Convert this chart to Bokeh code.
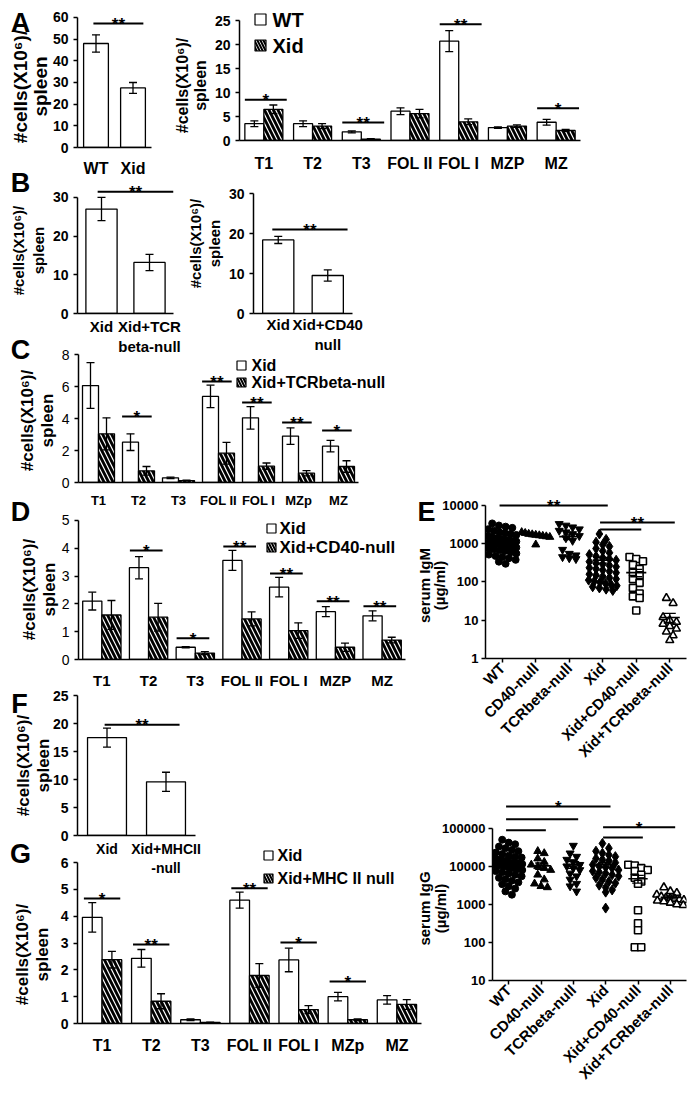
import math
import numpy as np
from bokeh.plotting import figure
from bokeh.models import Range1d, FixedTicker, NumeralTickFormatter
from bokeh.embed import file_html
from bokeh.resources import INLINE
from bokeh.core.properties import value

# ------------------------------------------------------------------ data
A_geno = ["WT", "Xid"]
A_total = [48.0, 27.5]
A_total_sem = [4.0, 2.5]

A_subsets = ["T1", "T2", "T3", "FOL II", "FOL I", "MZP", "MZ"]
A_wt = [3.5, 3.5, 1.8, 6.1, 20.7, 2.7, 3.8]
A_wt_sem = [0.6, 0.6, 0.2, 0.7, 2.2, 0.15, 0.6]
A_xid = [6.5, 3.0, 0.3, 5.6, 3.9, 3.0, 2.1]
A_xid_sem = [0.9, 0.5, 0.1, 0.9, 0.6, 0.25, 0.2]
A_sig_groups = [0, 2, 4, 6]
A_sig_y = [8.5, 3.75, 24.2, 6.7]
A_sig_txt = ["*", "**", "**", "*"]

B1_geno = ["Xid", "Xid+TCR\nbeta-null"]
B1_vals = [27.0, 13.2]
B1_sem = [3.0, 2.1]
B2_geno = ["Xid", "Xid+CD40\nnull"]
B2_vals = [18.4, 9.5]
B2_sem = [0.9, 1.4]

C_subsets = ["T1", "T2", "T3", "FOL II", "FOL I", "MZp", "MZ"]
C_xid = [6.06, 2.52, 0.29, 5.38, 4.04, 2.9, 2.27]
C_xid_sem = [1.43, 0.52, 0.05, 0.7, 0.7, 0.52, 0.36]
C_tcr = [3.04, 0.73, 0.12, 1.83, 1.02, 0.58, 1.0]
C_tcr_sem = [1.0, 0.27, 0.02, 0.68, 0.2, 0.16, 0.36]
C_sig_groups = [1, 3, 4, 5, 6]
C_sig_y = [4.13, 6.31, 5.0, 3.75, 3.25]
C_sig_txt = ["*", "**", "**", "**", "*"]

D_subsets = ["T1", "T2", "T3", "FOL II", "FOL I", "MZP", "MZ"]
D_xid = [2.1, 3.3, 0.44, 3.56, 2.6, 1.72, 1.57]
D_xid_sem = [0.32, 0.4, 0.02, 0.36, 0.35, 0.18, 0.18]
D_cd40 = [1.6, 1.52, 0.23, 1.46, 1.04, 0.44, 0.7]
D_cd40_sem = [0.52, 0.5, 0.05, 0.25, 0.28, 0.15, 0.1]
D_sig_groups = [1, 2, 3, 4, 5, 6]
D_sig_y = [3.92, 0.76, 4.06, 3.09, 2.09, 1.91]
D_sig_txt = ["*", "*", "**", "**", "**", "**"]

F_geno = ["Xid", "Xid+MHCII\n-null"]
F_vals = [17.5, 9.6]
F_sem = [1.7, 1.7]

G_subsets = ["T1", "T2", "T3", "FOL II", "FOL I", "MZp", "MZ"]
G_xid = [3.96, 2.43, 0.14, 4.6, 2.37, 1.0, 0.88]
G_xid_sem = [0.55, 0.33, 0.03, 0.3, 0.44, 0.16, 0.16]
G_mhc = [2.38, 0.83, 0.04, 1.79, 0.52, 0.14, 0.71]
G_mhc_sem = [0.31, 0.28, 0.01, 0.44, 0.15, 0.03, 0.18]
G_sig_groups = [0, 1, 3, 4, 5]
G_sig_y = [4.66, 2.95, 5.04, 3.02, 1.57]
G_sig_txt = ["*", "**", "**", "*", "*"]

serum_groups = ["WT", "CD40-null", "TCRbeta-null", "Xid", "Xid+CD40-null", "Xid+TCRbeta-null"]

IgM_WT = [3400, 3000, 2800, 2600, 2400, 2200, 2000, 1900, 1800, 1700, 1600, 1500, 1400,
          1350, 1300, 1250, 1200, 1150, 1100, 1050, 1000, 980, 950, 900, 870, 840, 800,
          760, 720, 680, 650, 600, 560, 520, 480, 450, 420, 380, 340, 300]
IgM_CD40 = [2000, 1900, 1800, 1750, 1700, 1650, 1600, 1550, 1500, 950]
IgM_TCR = [3300, 3000, 2700, 2400, 2200, 2000, 1800, 1600, 1400, 1200, 700, 550, 500,
           450, 420, 400]
IgM_Xid = [1800, 1300, 1100, 950, 850, 750, 650, 580, 520, 470, 430, 400, 370, 340, 310,
           290, 270, 250, 235, 220, 205, 190, 175, 160, 150, 140, 130, 120, 112, 105, 98,
           92, 85, 80, 75, 70, 65, 60]
IgM_XidCD40 = [450, 400, 350, 280, 220, 180, 150, 120, 95, 70, 50, 42, 38, 18]
IgM_XidTCR = [38, 28, 12, 10, 9, 8, 7, 6, 5, 4, 3]
IgM_sig = [(0, 3, 10000, "**"), (3, 5, 3600, "**"), (3, 4, 2350, "")]

IgG_WT = [50000, 42000, 38000, 33000, 30000, 27000, 25000, 23000, 21000, 19000, 18000,
          17000, 16000, 15000, 14000, 13000, 12500, 12000, 11500, 11000, 10500, 10000,
          9500, 9000, 8500, 8000, 7500, 7000, 6500, 6000, 5500, 5000, 4600, 4200, 3800,
          3400, 3000, 2600, 2200, 1800]
IgG_CD40 = [25000, 22000, 16000, 13000, 11000, 10000, 9000, 8000, 6000, 4500, 3500, 3000, 2800]
IgG_TCR = [35000, 22000, 18000, 15000, 13000, 11000, 10000, 9000, 8000, 6500, 5500, 4500,
           3500, 3000, 2200]
IgG_Xid = [40000, 30000, 25000, 22000, 20000, 18000, 16000, 15000, 14000, 12500, 11000,
           10000, 9500, 9000, 8000, 7500, 7000, 6500, 6000, 5500, 5000, 4500, 4000, 3600,
           3200, 2800, 2400, 2100, 800]
IgG_XidCD40 = [11000, 10500, 9000, 8000, 7500, 6000, 5000, 4000, 3500, 700, 320, 210, 75, 75]
IgG_XidTCR = [2800, 2200, 2000, 1800, 1600, 1500, 1450, 1400, 1350, 1300, 1250, 1200,
              1100, 1000, 950]
IgG_sig = [(0, 3, 376000, "*"), (0, 2, 172000, ""), (0, 1, 89000, ""),
           (3, 5, 107000, "*"), (3, 4, 57500, "")]

# ------------------------------------------------------------------ helpers
FONT = "Liberation Sans"
PW, PH = 681, 1083
OX, OY = 8, 8
HATCH = dict(hatch_pattern="\\", hatch_color="black", hatch_weight=2.8, hatch_scale=9)


def base_fig(frame, xr, yr, y_type="linear"):
    l, t, r, b = frame
    p = figure(width=PW, height=PH, output_backend="svg", toolbar_location=None,
               x_range=Range1d(*xr), y_range=Range1d(*yr), y_axis_type=y_type,
               min_border_left=l - OX, min_border_top=t - OY,
               min_border_right=OX + PW - r, min_border_bottom=OY + PH - b)
    p.outline_line_color = None
    p.border_fill_color = None
    p.background_fill_color = None
    p.xgrid.visible = False
    p.ygrid.visible = False
    for ax in p.axis:
        ax.axis_line_color = "black"
        ax.axis_line_width = 1.5
        ax.major_tick_line_color = "black"
        ax.major_tick_line_width = 1.5
        ax.major_tick_in = 0
        ax.major_tick_out = 4
        ax.minor_tick_line_color = None
        ax.major_label_text_font = FONT
        ax.major_label_text_font_style = "bold"
        ax.major_label_text_color = "black"
        ax.major_label_text_font_size = "14px"
    return p


def cat_xaxis(p, labels, size, standoff):
    ticks = [i + 0.5 for i in range(len(labels))]
    p.xaxis.ticker = FixedTicker(ticks=ticks)
    p.xaxis.major_label_overrides = {t: lab for t, lab in zip(ticks, labels)}
    p.xaxis.major_tick_line_color = None
    p.xaxis.major_tick_out = 0
    p.xaxis.major_label_standoff = standoff
    p.xaxis.major_label_text_font_size = size
    p.xaxis.bounds = (0, len(labels))


def lin_yaxis(p, top, step, bold=True, size="14px"):
    p.yaxis.ticker = FixedTicker(ticks=list(np.arange(0, top + step / 2, step)))
    p.yaxis.bounds = (0, top)
    p.yaxis.major_label_text_font_style = "bold" if bold else "normal"
    p.yaxis.major_label_text_font_size = size


def bars(p, xs, means, sems, width, px_per_x, hatched):
    kw = dict(fill_color="white", line_color="black", line_width=1.3)
    if hatched:
        kw.update(HATCH)
    r = p.vbar(x=xs, top=means, bottom=0, width=width, **kw)
    lo = [m - e for m, e in zip(means, sems)]
    hi = [m + e for m, e in zip(means, sems)]
    cap = 4.0 / px_per_x
    p.segment(x0=xs, y0=lo, x1=xs, y1=hi, line_color="black", line_width=1.3)
    p.segment(x0=[x - cap for x in xs], y0=hi, x1=[x + cap for x in xs], y1=hi,
              line_color="black", line_width=1.3)
    p.segment(x0=[x - cap for x in xs], y0=lo, x1=[x + cap for x in xs], y1=lo,
              line_color="black", line_width=1.3)
    return r


def sig(p, x0s, x1s, ys, labels, size="17px"):
    p.segment(x0=x0s, y0=ys, x1=x1s, y1=ys, line_color="black", line_width=2)
    p.text(x=[(a + b) / 2 for a, b in zip(x0s, x1s)], y=ys, text=labels,
           text_align="center", text_baseline="alphabetic", y_offset=1,
           text_font=value(FONT), text_font_style="bold", text_font_size=size,
           text_color="black")


def to_data(frame, xr, yr, px, py):
    l, t, r, b = frame
    x = xr[0] + (px - l) / (r - l) * (xr[1] - xr[0])
    y = yr[0] + (b - py) / (b - t) * (yr[1] - yr[0])
    return x, y


def key(p, frame, xr, yr, spec, labels):
    box_cx, rows, text_x, size, glyph = spec
    for k, (ry, lab) in enumerate(zip(rows, labels)):
        bx, by = to_data(frame, xr, yr, box_cx, ry)
        tx, _ = to_data(frame, xr, yr, text_x, ry)
        kw = dict(fill_color="white", line_color="black", line_width=1.2)
        if k == 1:
            kw.update(HATCH)
            kw["hatch_scale"] = 6
            kw["hatch_weight"] = 2
        p.rect(x=[bx], y=[by], width=glyph, height=glyph, width_units="screen",
               height_units="screen", **kw)
        p.text(x=[tx], y=[by], text=[lab], text_align="left", text_baseline="middle",
               text_font=value(FONT), text_font_style="bold", text_font_size=size,
               text_color="black")


def grouped_panel(frame, axis_right, ytop, ymax_tick, ystep, labels, s1, e1, s2, e2,
                  sig_groups, sig_y, sig_txt, sig_dx, sig_half, bar_w,
                  xlab_size, xlab_standoff, tick_bold, leg_labels, leg_spec):
    # frame: drawing area (may extend right of the x axis end at axis_right)
    l, t, r, b = frame
    n = len(labels)
    pxx = (axis_right - l) / n
    xr, yr = (0, (r - l) / pxx), (0, ytop)
    p = base_fig(frame, xr, yr)
    cat_xaxis(p, labels, xlab_size, xlab_standoff)
    lin_yaxis(p, ymax_tick, ystep, bold=tick_bold)
    xs1 = [i + 0.5 - bar_w / 2 for i in range(n)]
    xs2 = [i + 0.5 + bar_w / 2 for i in range(n)]
    bars(p, xs1, s1, e1, bar_w, pxx, False)
    bars(p, xs2, s2, e2, bar_w, pxx, True)
    sig(p, [g + sig_dx - sig_half for g in sig_groups],
        [g + sig_dx + sig_half for g in sig_groups], sig_y, sig_txt)
    key(p, frame, xr, yr, leg_spec, leg_labels)
    return p


def pair_panel(frame, ytop, ymax_tick, ystep, labels, vals, sems, bar_w,
               sig_x0, sig_x1, sig_y, xlab_size, xlab_standoff):
    l, t, r, b = frame
    p = base_fig(frame, (0, 2), (0, ytop))
    pxx = (r - l) / 2
    cat_xaxis(p, labels, xlab_size, xlab_standoff)
    lin_yaxis(p, ymax_tick, ystep)
    bars(p, [0.5, 1.5], vals, sems, bar_w, pxx, False)
    sig(p, [sig_x0], [sig_x1], [sig_y], ["**"])
    return p


def swarm(vals, bin_dec=0.15, step=0.2, maxw=0.42):
    lv = np.log10(np.asarray(vals, dtype=float))
    order = np.argsort(-lv, kind="stable")
    offs = np.zeros(len(lv))
    bins, cur, start = [], [], None
    for i in order:
        if start is None or start - lv[i] <= bin_dec:
            if start is None:
                start = lv[i]
            cur.append(i)
        else:
            bins.append(cur)
            cur, start = [i], lv[i]
    bins.append(cur)
    for bn in bins:
        k = len(bn)
        w = min(step, 2 * maxw / (k - 1)) if k > 1 else 0
        for j, i in enumerate(bn):
            offs[i] = (j - (k - 1) / 2) * w
    return offs


MARKERS = [dict(marker="circle", size=7, fill_color="black", line_width=1),
           dict(marker="triangle", size=8, fill_color="black", line_width=1),
           dict(marker="inverted_triangle", size=8, fill_color="black", line_width=1),
           dict(marker="diamond", size=10, fill_color="black", line_width=1),
           dict(marker="square", size=7, fill_color="white", line_width=1.6),
           dict(marker="triangle", size=8, fill_color="white", line_width=1.6)]


def dot_panel(frame, ylo, ytop, ticks, groups, series, sigs):
    p = base_fig(frame, (-0.5, len(groups) - 0.5), (ylo, ytop), y_type="log")
    p.xaxis.ticker = FixedTicker(ticks=list(range(len(groups))))
    p.xaxis.major_label_overrides = {i: g for i, g in enumerate(groups)}
    p.xaxis.major_label_orientation = math.pi / 4
    p.xaxis.major_label_text_font_size = "15px"
    p.xaxis.major_label_standoff = 3
    p.yaxis.ticker = FixedTicker(ticks=ticks)
    p.yaxis.formatter = NumeralTickFormatter(format="0")
    p.yaxis.bounds = (ticks[0], ticks[-1])
    p.yaxis.major_label_text_font_size = "13px"
    p.yaxis.major_label_standoff = 3
    for i, (vals, mk) in enumerate(zip(series, MARKERS)):
        xs = i + swarm(vals)
        p.scatter(x=xs, y=vals, line_color="black", **mk)
        m = float(np.mean(vals))
        s = float(np.std(vals, ddof=1) / math.sqrt(len(vals)))
        p.segment(x0=[i - 0.3], y0=[m], x1=[i + 0.3], y1=[m], line_color="black", line_width=1.6)
        p.segment(x0=[i - 0.18, i - 0.18, i], y0=[m + s, m - s, m - s],
                  x1=[i + 0.18, i + 0.18, i], y1=[m + s, m - s, m + s],
                  line_color="black", line_width=1.4)
    sig(p, [a - 0.08 for a, b, y, t in sigs], [b + 0.15 for a, b, y, t in sigs],
        [y for a, b, y, t in sigs], [t for a, b, y, t in sigs])
    return p


# ------------------------------------------------------------------ panels
pA1 = pair_panel((77, 8, 151, 147), 64.15, 60, 10, A_geno, A_total, A_total_sem, 0.67,
                 0.43, 1.78, 57.2, "16px", 12)

pA2 = grouped_panel((239, 8, 600, 140), 580, 27.5, 25, 5, A_subsets, A_wt, A_wt_sem,
                    A_xid, A_xid_sem, A_sig_groups, A_sig_y, A_sig_txt, 0.54, 0.43, 0.39,
                    "16px", 14, True, ("WT", "Xid"), (260, (19, 45), 272, "20px", 11))

pB1 = pair_panel((77, 183, 173, 313), 33.6, 30, 10, B1_geno, B1_vals, B1_sem, 0.65,
                 0.42, 2.0, 31.5, "15px", 4)
pB2 = pair_panel((253, 183, 352, 313), 32.5, 30, 10, B2_geno, B2_vals, B2_sem, 0.63,
                 0.38, 1.9, 21.0, "15px", 2)

pC = grouped_panel((78, 354, 410, 482), 358, 8, 8, 2, C_subsets, C_xid, C_xid_sem,
                   C_tcr, C_tcr_sem, C_sig_groups, C_sig_y, C_sig_txt, 0.46, 0.37, 0.4,
                   "13px", 10, False, ("Xid", "Xid+TCRbeta-null"),
                   (241, (365, 382), 251, "16px", 9))

pD = grouped_panel((78, 516, 415, 659), 405, 5.14, 5, 1, D_subsets, D_xid, D_xid_sem,
                   D_cd40, D_cd40_sem, D_sig_groups, D_sig_y, D_sig_txt, 0.45, 0.35, 0.41,
                   "15px", 12, False, ("Xid", "Xid+CD40-null"),
                   (271, (528, 547), 279, "17px", 9))

pF = pair_panel((77, 694, 195, 835), 25.2, 25, 5, F_geno, F_vals, F_sem, 0.66,
                0.46, 1.73, 19.8, "14px", 5)

pG = grouped_panel((77, 846, 421, 1023), 421, 6.6, 6, 1, G_subsets, G_xid, G_xid_sem,
                   G_mhc, G_mhc_sem, G_sig_groups, G_sig_y, G_sig_txt, 0.5, 0.37, 0.4,
                   "16px", 13, True, ("Xid", "Xid+MHC II null"),
                   (268, (855, 878), 277, "16px", 9))

pE = dot_panel((485, 490, 686, 658), 1, 10 ** 4.392, [1, 10, 100, 1000, 10000], serum_groups,
               [IgM_WT, IgM_CD40, IgM_TCR, IgM_Xid, IgM_XidCD40, IgM_XidTCR], IgM_sig)

pIgG = dot_panel((492, 790, 686, 981), 10, 10 ** 5.993, [10, 100, 1000, 10000, 100000],
                 serum_groups, [IgG_WT, IgG_CD40, IgG_TCR, IgG_Xid, IgG_XidCD40, IgG_XidTCR],
                 IgG_sig)

# ------------------------------------------------------------------ free text layer
ov = figure(width=PW, height=PH, output_backend="svg", toolbar_location=None,
            x_range=Range1d(OX, OX + PW), y_range=Range1d(-(OY + PH), -OY),
            x_axis_location=None, y_axis_location=None, min_border=0)
ov.outline_line_color = None
ov.border_fill_color = None
ov.background_fill_color = None
ov.xgrid.visible = False
ov.ygrid.visible = False

letters = ["A", "B", "C", "D", "E", "F", "G"]
letter_x = [20, 20, 20, 20, 426, 19, 20]
letter_y = [22, 182, 349, 511, 511, 703, 853]
ov.text(x=letter_x, y=[-v for v in letter_y], text=letters, text_align="center",
        text_baseline="middle", text_font=value(FONT), text_font_style="bold",
        text_font_size="27px", text_color="black")

YL1 = "#cells(X10\u2076)/"
YL2 = "spleen"
ylabel_sets = [  # line1 x, line2 x, centre y, size
    (20, 40, 86, "19px"),
    (182, 200, 85, "16px"),
    (18, 38, 250, "15px"),
    (195, 214, 243, "15px"),
    (27, 47, 420, "17px"),
    (29, 49, 589, "17px"),
    (23, 43, 765, "17px"),
    (22, 42, 954, "17px"),
]
for x1, x2, yc, fs in ylabel_sets:
    ov.text(x=[x1, x2], y=[-yc, -yc], text=[YL1, YL2], angle=math.pi / 2,
            text_align="center", text_baseline="middle", text_font=value(FONT),
            text_font_style="bold", text_font_size=fs, text_color="black")

for x1, x2, yc, lab in [(424, 439, 585, "serum IgM"), (424, 440, 908, "serum IgG")]:
    ov.text(x=[x1, x2], y=[-yc, -yc], text=[lab, "(\u00b5g/ml)"], angle=math.pi / 2,
            text_align="center", text_baseline="middle", text_font=value(FONT),
            text_font_style="bold", text_font_size="15px", text_color="black")

figs = [pA1, pA2, pB1, pB2, pC, pD, pF, pG, pE, pIgG, ov]
for f in figs:
    f.styles = {"position": "absolute", "left": "8px", "top": "8px"}

open("out.html", "w").write(file_html(figs, INLINE))
